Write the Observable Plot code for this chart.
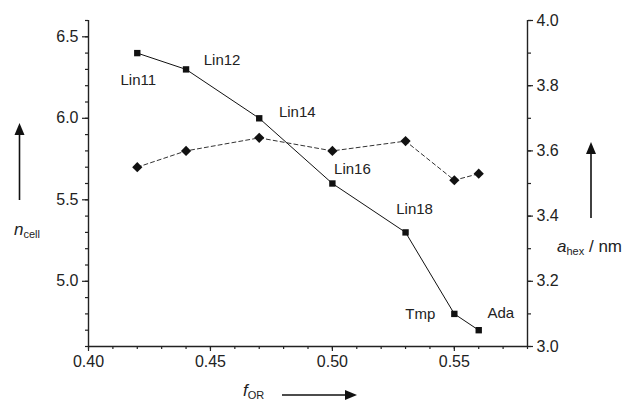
<!DOCTYPE html>
<html>
<head>
<meta charset="utf-8">
<script src="https://cdn.jsdelivr.net/npm/d3@7"></script>
<script src="https://cdn.jsdelivr.net/npm/@observablehq/plot@0.6"></script>
<style>
  html, body { margin: 0; padding: 0; background: #fff; }
  #chart svg { display: block; }
</style>
</head>
<body>
<div id="chart"></div>
<script>
// ---- data ----
const samples = ["Lin11", "Lin12", "Lin14", "Lin16", "Lin18", "Tmp", "Ada"];
const fOR = [0.42, 0.44, 0.47, 0.50, 0.53, 0.55, 0.56];
const nCell = [6.4, 6.3, 6.0, 5.6, 5.3, 4.8, 4.7];
const aHex = [3.55, 3.60, 3.64, 3.60, 3.63, 3.51, 3.53];
const xTicks = [0.40, 0.45, 0.50, 0.55];
const nTicks = [5.0, 5.5, 6.0, 6.5];
const aTicks = [3.0, 3.2, 3.4, 3.6, 3.8, 4.0];

// ---- scales ----
const xDomain = [0.40, 0.58];
const nDomain = [4.6, 6.6];
const aDomain = [3.0, 4.0];
// map right-axis (a_hex) values into left-axis (n_cell) units
const a2n = a => nDomain[0] + (a - aDomain[0]) * (nDomain[1] - nDomain[0]) / (aDomain[1] - aDomain[0]);
const n2a = n => aDomain[0] + (n - nDomain[0]) * (aDomain[1] - aDomain[0]) / (nDomain[1] - nDomain[0]);

const rows = samples.map((s, i) => ({s, f: fOR[i], n: nCell[i], a: a2n(aHex[i])}));

const xMinor = d3.range(40, 59).map(v => v / 100);
const nMinor = d3.range(46, 67).map(v => v / 10);
const aMinor = d3.range(30, 41).map(v => a2n(v / 10));

const labelOffset = {
  Lin11: [1, 27], Lin12: [36, -9], Lin14: [38, -6], Lin16: [20, -14],
  Lin18: [9, -23], Tmp: [-34, 0], Ada: [22, -17]
};

const font = "Liberation Sans, Arial, Helvetica, sans-serif";

const plot = Plot.plot({
  width: 625,
  height: 403,
  marginLeft: 88,
  marginRight: 98,
  marginTop: 20,
  marginBottom: 57,
  style: {fontFamily: font, fontSize: "16px", color: "#222", background: "#fff"},
  x: {domain: xDomain, axis: null},
  y: {domain: nDomain, axis: null},
  marks: [
    // axis lines
    Plot.ruleX([xDomain[0], xDomain[1]], {stroke: "#222", strokeWidth: 1.4}),
    Plot.ruleY([nDomain[0]], {stroke: "#222", strokeWidth: 1.4}),
    // x axis
    Plot.axisX(xTicks, {anchor: "bottom", tickSize: 5, tickPadding: 4, tickFormat: d3.format(".2f"), label: null, fontSize: 16, stroke: "#222", strokeWidth: 1.2}),
    Plot.axisX(xMinor, {anchor: "bottom", tickSize: 3, text: null, label: null, stroke: "#222", strokeWidth: 1.2}),
    // left axis
    Plot.axisY(nTicks, {anchor: "left", tickSize: 6, tickPadding: 4, tickFormat: d3.format(".1f"), label: null, fontSize: 16, stroke: "#222", strokeWidth: 1.2}),
    Plot.axisY(nMinor, {anchor: "left", tickSize: 3, text: null, label: null, stroke: "#222", strokeWidth: 1.2}),
    // right axis
    Plot.axisY(aTicks.map(a2n), {anchor: "right", tickSize: 5, tickPadding: 4, tickFormat: d => d3.format(".1f")(n2a(d)), label: null, fontSize: 16, stroke: "#222", strokeWidth: 1.2}),
    Plot.axisY(aMinor, {anchor: "right", tickSize: 3, text: null, label: null, stroke: "#222", strokeWidth: 1.2}),
    // n_cell series
    Plot.line(rows, {x: "f", y: "n", stroke: "#111", strokeWidth: 1}),
    Plot.dot(rows, {x: "f", y: "n", symbol: "square", r: 3.6, fill: "#111", stroke: null}),
    // a_hex series
    Plot.line(rows, {x: "f", y: "a", stroke: "#333", strokeWidth: 1, strokeDasharray: "4,3"}),
    Plot.dot(rows, {x: "f", y: "a", symbol: "diamond2", r: 4.6, fill: "#111", stroke: null}),
    // sample labels
    ...rows.map(r => Plot.text([r], {
      x: "f", y: "n", text: "s",
      dx: labelOffset[r.s][0], dy: labelOffset[r.s][1],
      fontSize: 15, fill: "#222", fontFamily: font
    }))
  ]
});

document.getElementById("chart").appendChild(plot);

// ---- axis titles and arrows ----
const svg = d3.select(plot);
const g = svg.append("g")
  .attr("font-family", font)
  .attr("fill", "#222")
  .attr("text-anchor", "start");

function arrow(x1, y1, x2, y2) {
  const ang = Math.atan2(y2 - y1, x2 - x1);
  const L = 12, W = 5;
  const bx = x2 - L * Math.cos(ang), by = y2 - L * Math.sin(ang);
  g.append("line").attr("x1", x1).attr("y1", y1).attr("x2", bx).attr("y2", by)
    .attr("stroke", "#111").attr("stroke-width", 1.6);
  const px = -Math.sin(ang) * W, py = Math.cos(ang) * W;
  g.append("path")
    .attr("d", `M${x2},${y2} L${bx + px},${by + py} L${bx - px},${by - py} Z`)
    .attr("fill", "#111");
}
function subLabel(x, y, main, sub, rest) {
  const t = g.append("text").attr("x", x).attr("y", y).attr("font-size", 17).attr("text-anchor", "start");
  t.append("tspan").attr("font-style", "italic").text(main);
  t.append("tspan").attr("font-size", 11).attr("dy", 3).text(sub);
  if (rest) t.append("tspan").attr("dy", -3).text(rest);
}

arrow(19.5, 200, 19.5, 123);
subLabel(14, 235, "n", "cell");

arrow(591, 218, 591, 142);
subLabel(557, 252, "a", "hex", " / nm");

arrow(282, 395, 357, 395);
subLabel(243, 396, "f", "OR");
</script>
</body>
</html>
